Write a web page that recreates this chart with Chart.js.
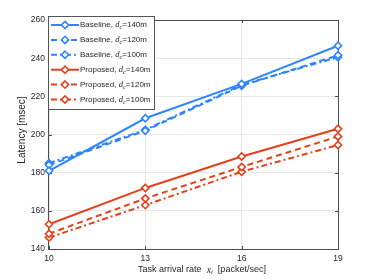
<!DOCTYPE html>
<html>
<head>
<meta charset="utf-8">
<script src="https://cdn.jsdelivr.net/npm/chart.js@4.4.1/dist/chart.umd.min.js"></script>
<style>
  body { margin: 0; background: #fff; }
  #wrap { width: 374px; height: 280px; }
</style>
</head>
<body>
<div id="wrap"><canvas id="latencyChart" width="374" height="280"></canvas></div>
<script>
// task arrival rate (x axis)
const arrivalRates = [10, 13, 16, 19];
const yTicks = [140, 160, 180, 200, 220, 240, 260];

// latency [msec]
const baseline140 = [181, 208.5, 226.5, 246.5];
const baseline120 = [184, 202, 225.5, 241.5];
const baseline100 = [185, 202.5, 226, 240.5];
const proposed140 = [153, 172, 188.5, 203];
const proposed120 = [148, 166.5, 183, 199];
const proposed100 = [146, 163, 180.5, 194.5];

const schemes = ['Baseline', 'Proposed'];
const distances = [140, 120, 100];

const blue = '#2f84ff';
const red = '#e6401a';
const dashes = [[], [6, 4], [6, 3, 2, 3]];
const font = "'Liberation Sans', Arial, sans-serif";

const seriesData = [baseline140, baseline120, baseline100, proposed140, proposed120, proposed100];

const datasets = seriesData.map((vals, i) => {
  const color = i < 3 ? blue : red;
  return {
    label: schemes[Math.floor(i / 3)] + ', dc=' + distances[i % 3] + 'm',
    data: vals.map((v, j) => ({ x: arrivalRates[j], y: v })),
    borderColor: color,
    backgroundColor: '#fff',
    borderWidth: 2,
    borderDash: dashes[i % 3],
    pointStyle: 'rectRot',
    pointRadius: 3.6,
    pointBorderWidth: 1.6,
    pointBorderColor: color,
    pointBackgroundColor: '#fff',
    clip: false,
    tension: 0
  };
});

const frame = {
  id: 'frame',
  beforeDatasetsDraw(chart) {
    const { ctx, chartArea: a, scales } = chart;
    ctx.save();
    ctx.strokeStyle = '#4d4d4d';
    ctx.lineWidth = 1;
    ctx.strokeRect(a.left - 0.5, a.top + 0.5, a.right - a.left + 1, a.bottom - a.top);
    ctx.beginPath();
    arrivalRates.forEach(v => {
      const px = Math.round(scales.x.getPixelForValue(v)) + 0.5;
      ctx.moveTo(px, a.bottom); ctx.lineTo(px, a.bottom - 3);
      ctx.moveTo(px, a.top); ctx.lineTo(px, a.top + 3);
    });
    yTicks.forEach(v => {
      const py = Math.round(scales.y.getPixelForValue(v)) + 0.5;
      ctx.moveTo(a.left, py); ctx.lineTo(a.left + 3, py);
      ctx.moveTo(a.right, py); ctx.lineTo(a.right - 3, py);
    });
    ctx.stroke();
    ctx.restore();
  },
  afterDraw(chart) {
    const ctx = chart.ctx;
    ctx.save();
    ctx.fillStyle = '#262626';
    ctx.textBaseline = 'middle';

    // x title with math x_i
    const parts = [
      { t: 'Task arrival rate  ', f: '9px ' + font, dy: 0 },
      { t: 'x', f: 'italic 10px "Liberation Serif", serif', dy: 0 },
      { t: 'i', f: 'italic 6.5px "Liberation Serif", serif', dy: 2 },
      { t: '  [packet/sec]', f: '9px ' + font, dy: 0 }
    ];
    let total = 0;
    parts.forEach(p => { ctx.font = p.f; p.w = ctx.measureText(p.t).width; total += p.w; });
    let x = 202 - total / 2;
    parts.forEach(p => { ctx.font = p.f; ctx.textAlign = 'left'; ctx.fillText(p.t, x, 270 + p.dy); x += p.w; });

    // y title
    ctx.save();
    ctx.translate(22, 130);
    ctx.rotate(-Math.PI / 2);
    ctx.textAlign = 'center';
    ctx.font = '10px ' + font;
    ctx.fillText('Latency [msec]', 0, 0);
    ctx.restore();

    // legend
    const lx = 48.5, ly = 16.5, lw = 106, lh = 93;
    ctx.fillStyle = '#fff';
    ctx.fillRect(lx, ly, lw, lh);
    ctx.strokeStyle = '#555';
    ctx.lineWidth = 1;
    ctx.strokeRect(lx, ly, lw, lh);
    datasets.forEach((ds, i) => {
      const ry = 25 + i * 14.9;
      ctx.strokeStyle = ds.borderColor;
      ctx.lineWidth = 2;
      ctx.setLineDash(ds.borderDash);
      ctx.beginPath();
      ctx.moveTo(51, ry); ctx.lineTo(79, ry);
      ctx.stroke();
      ctx.setLineDash([]);
      ctx.lineWidth = 1.6;
      ctx.fillStyle = '#fff';
      ctx.beginPath();
      ctx.moveTo(65, ry - 3.6); ctx.lineTo(68.6, ry); ctx.lineTo(65, ry + 3.6); ctx.lineTo(61.4, ry);
      ctx.closePath();
      ctx.fill(); ctx.stroke();

      ctx.fillStyle = '#262626';
      ctx.textAlign = 'left';
      let tx = 80;
      const segs = [
        { t: schemes[Math.floor(i / 3)] + ', ', f: '8px ' + font, dy: 0 },
        { t: 'd', f: 'italic 8.5px "Liberation Serif", serif', dy: 0 },
        { t: 'c', f: 'italic 6.5px "Liberation Serif", serif', dy: 2.5 },
        { t: '=' + distances[i % 3] + 'm', f: '8px ' + font, dy: 0 }
      ];
      segs.forEach(s => { ctx.font = s.f; ctx.fillText(s.t, tx, ry + s.dy); tx += ctx.measureText(s.t).width; });
    });
    ctx.restore();
  }
};

new Chart(document.getElementById('latencyChart'), {
  type: 'line',
  data: { datasets: datasets },
  options: {
    responsive: false,
    animation: false,
    layout: { padding: { top: 20, right: 36, left: 0, bottom: 0 } },
    plugins: { legend: { display: false }, tooltip: { enabled: false } },
    scales: {
      x: {
        type: 'linear',
        min: 10,
        max: 19,
        afterBuildTicks: s => { s.ticks = arrivalRates.map(v => ({ value: v })); },
        afterFit: s => { s.height = 31; },
        grid: { color: '#e6e6e6', drawTicks: false },
        border: { display: false },
        ticks: { padding: 5, color: '#262626', font: { size: 8.5, family: font } }
      },
      y: {
        min: 140,
        max: 260,
        afterBuildTicks: s => { s.ticks = yTicks.map(v => ({ value: v })); },
        afterFit: s => { s.width = 49; },
        grid: { color: '#e6e6e6', drawTicks: false },
        border: { display: false },
        ticks: { padding: 4, color: '#262626', font: { size: 8.5, family: font } }
      }
    }
  },
  plugins: [frame]
});
</script>
</body>
</html>
